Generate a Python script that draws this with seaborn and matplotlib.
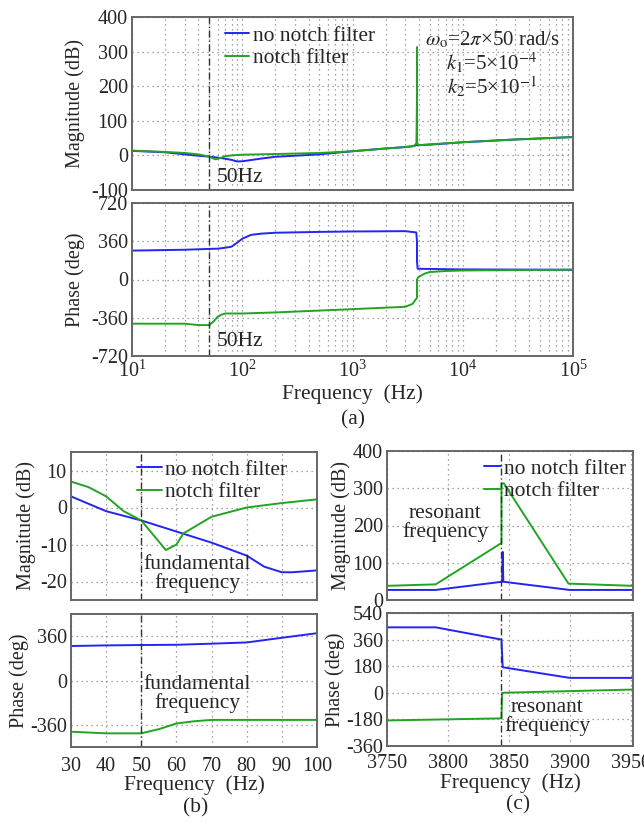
import matplotlib
matplotlib.use("Agg")
import matplotlib.pyplot as plt
import numpy as np
import pandas as pd
import seaborn as sns
from matplotlib.ticker import LogLocator, NullFormatter, MultipleLocator, FixedLocator

# ---------------- data ----------------
# (a) wide-band Bode plot, 10 Hz .. 100 kHz
a_mag_f_plain = [10, 20, 30, 40, 50, 60, 70, 80, 90, 100, 150, 200, 500, 1000, 2000,
                 3000, 3600, 3800, 3845, 3900, 4200, 5000, 10000, 30000, 100000]
a_mag_plain = [13, 9, 3, -1, -3.5, -6.5, -9.5, -13, -17.5, -17, -9, -4, 3, 12, 20,
               24, 27, 30, 36, 29, 30, 31, 38, 46, 53]
a_mag_f_notch = [10, 20, 30, 40, 50, 57, 60, 70, 80, 100, 200, 500, 1000, 2000, 3000,
                 3600, 3800, 3840, 3845, 3850, 3900, 4200, 5000, 10000, 30000, 100000]
a_mag_notch = [14, 10, 7, 3, -3.5, -11.5, -10, -2.5, 0, 2, 4, 7, 12, 20, 24,
               27, 35, 150, 313, 40, 31, 30, 32, 38, 46, 53]

a_ph_f_plain = [10, 30, 50, 60, 70, 80, 90, 100, 120, 150, 200, 500, 1000, 3000,
                3790, 3844, 3845, 3900, 10000, 100000]
a_ph_plain = [272, 280, 288, 290, 299, 309, 347, 384, 420, 432, 440, 448, 452, 455,
              443, 360, 173, 101, 95, 92]
a_ph_f_notch = [10, 30, 40, 50, 55, 60, 65, 70, 100, 200, 1000, 3000, 3500, 3750,
                3844, 3845, 3952, 4500, 5000, 7000, 10000, 100000]
a_ph_notch = [-416, -416, -429, -429, -395, -349, -331, -320, -320, -310, -279, -257,
              -230, -187, -173, 0, 22, 55, 70, 80, 85, 92]

# (b) zoom around the fundamental frequency
b_f_plain = [30, 35, 40, 50, 60, 70, 80, 85, 90, 93, 100]
b_mag_plain = [3, 1, -1, -3.5, -6.5, -9.5, -13, -16, -17.5, -17.5, -17]
b_f_notch = [30, 35, 40, 45, 50, 57, 60, 62, 70, 80, 90, 100]
b_mag_notch = [7, 5.5, 3, -1, -3.5, -11.5, -10, -7, -2.5, 0, 1.2, 2.2]

b_ph_f_plain = [30, 40, 50, 60, 70, 80, 90, 100]
b_ph_plain = [280, 285, 288, 290, 299, 309, 347, 384]
b_ph_f_notch = [30, 40, 50, 55, 60, 65, 70, 100]
b_ph_notch = [-416, -429, -429, -395, -349, -331, -320, -320]

# (c) zoom around the resonant frequency
c_f_plain = [3750, 3790, 3844.5, 3845, 3845.5, 3900, 3952]
c_mag_plain = [27, 27, 49, 129, 49, 27, 27]
c_f_notch = [3750, 3790, 3844, 3844, 3846, 3899, 3952]
c_mag_notch = [38, 42, 153, 313, 313, 44, 38]

c_ph_f_plain = [3750, 3790, 3844, 3845, 3900, 3952]
c_ph_plain = [443, 443, 360, 173, 101, 101]
c_ph_f_notch = [3750, 3844, 3844.5, 3952]
c_ph_notch = [-187, -173, 0, 22]

series_names = ["no notch filter", "notch filter"]

# ---------------- style ----------------
sns.set_style("ticks")
plt.rcParams["font.family"] = ["Liberation Serif", "DejaVu Serif"]
plt.rcParams["mathtext.fontset"] = "stix"
plt.rcParams["axes.unicode_minus"] = False

BLUE = "#2424f5"
GREEN = "#22a422"
SPINE = "#666666"
ANN = 15.5

W, H = 644, 823
fig = plt.figure(figsize=(W / 100, H / 100), dpi=100)


def box(left, top, right, bottom):
    return [left / W, 1 - bottom / H, (right - left) / W, (bottom - top) / H]


def style_axes(ax, fs, xpad=3):
    for s in ax.spines.values():
        s.set_color(SPINE)
        s.set_linewidth(1.4)
    ax.tick_params(which="both", direction="in", length=0, labelsize=fs, pad=3)
    ax.tick_params(axis="x", pad=xpad)
    ax.grid(True, which="major", linestyle=(0, (1, 3)), color="#888888", linewidth=0.9)


def draw(ax, f1, y1, f2, y2, label=True):
    d1 = pd.DataFrame({"f": f1, "v": y1})
    d2 = pd.DataFrame({"f": f2, "v": y2})
    sns.lineplot(data=d1, x="f", y="v", ax=ax, color=BLUE, lw=1.4, sort=False,
                 estimator=None, label=series_names[0] if label else None)
    sns.lineplot(data=d2, x="f", y="v", ax=ax, color=GREEN, lw=1.4, sort=False,
                 estimator=None, label=series_names[1] if label else None)


def txt(x, y, s, **kw):
    fig.text(x / W, 1 - y / H, s, **kw)


legend_kw = dict(loc="upper left", frameon=False, fontsize=ANN, handlelength=1.15,
                 handletextpad=0.15, labelspacing=0.12, borderaxespad=0.2)

# ---------------- (a) ----------------
ax1 = fig.add_axes(box(132, 17, 573, 190))
ax2 = fig.add_axes(box(132, 203, 573, 356))
draw(ax1, a_mag_f_plain, a_mag_plain, a_mag_f_notch, a_mag_notch)
draw(ax2, a_ph_f_plain, a_ph_plain, a_ph_f_notch, a_ph_notch, label=False)
for ax in (ax1, ax2):
    ax.set_xscale("log")
    ax.set_xlim(10, 1e5)
    style_axes(ax, 14.5)
    ax.xaxis.set_minor_locator(LogLocator(base=10, subs=np.arange(2, 10)))
    ax.xaxis.set_minor_formatter(NullFormatter())
    ax.grid(True, which="minor", axis="x", linestyle=(0, (1, 3)), color="#888888", linewidth=0.9)
    ax.axvline(50, color="#333333", lw=1.0, ls=(0, (5, 2, 1, 2)))
ax1.set_ylim(-100, 400)
ax1.yaxis.set_major_locator(MultipleLocator(100))
ax1.set_xticklabels([])
ax1.set_xlabel("")
ax1.set_ylabel("Magnitude (dB)", fontsize=14.5, labelpad=4)
ax1.legend(bbox_to_anchor=(0.181, 1.025), **legend_kw)
ax2.set_ylim(-720, 720)
ax2.yaxis.set_major_locator(FixedLocator([-720, -360, 0, 360, 720]))
ax2.set_ylabel("Phase (deg)", fontsize=14.5, labelpad=4)
ax2.set_xlabel("Frequency  (Hz)", fontsize=ANN, labelpad=2)

txt(217, 177, "50Hz", fontsize=ANN, va="center")
txt(217, 342, "50Hz", fontsize=ANN, va="center")
txt(492, 40, r"$\omega_{\rm o}$=2$\pi$×50 rad/s", fontsize=15, ha="center", va="center")
txt(492, 63, r"$k_1$=5×10$^{-4}$", fontsize=15, ha="center", va="center")
txt(492, 87, r"$k_2$=5×10$^{-1}$", fontsize=15, ha="center", va="center")
txt(353, 420, "(a)", fontsize=ANN, ha="center", va="center")

# ---------------- (b) ----------------
bx1 = fig.add_axes(box(71, 452, 317, 600))
bx2 = fig.add_axes(box(71, 614, 317, 747))
draw(bx1, b_f_plain, b_mag_plain, b_f_notch, b_mag_notch)
draw(bx2, b_ph_f_plain, b_ph_plain, b_ph_f_notch, b_ph_notch, label=False)
for ax in (bx1, bx2):
    ax.set_xlim(30, 100)
    ax.xaxis.set_major_locator(MultipleLocator(10))
    style_axes(ax, 14.5, xpad=7)
    ax.axvline(50, color="#333333", lw=1.0, ls=(0, (5, 2, 1, 2)))
bx1.set_ylim(-25, 15)
bx1.yaxis.set_major_locator(FixedLocator([-20, -10, 0, 10]))
bx1.set_xticklabels([])
bx1.set_xlabel("")
bx1.set_ylabel("Magnitude (dB)", fontsize=14.5, labelpad=3)
bx1.legend(bbox_to_anchor=(0.217, 1.035), **legend_kw)
bx2.set_ylim(-540, 540)
bx2.yaxis.set_major_locator(FixedLocator([-360, 0, 360]))
bx2.set_ylabel("Phase (deg)", fontsize=14.5, labelpad=1)
bx2.set_xlabel("Frequency  (Hz)", fontsize=ANN, labelpad=0)

txt(197, 574, "fundamental\nfrequency", fontsize=ANN, ha="center", va="center", linespacing=1.0)
txt(197, 694, "fundamental\nfrequency", fontsize=ANN, ha="center", va="center", linespacing=1.0)
txt(196, 808, "(b)", fontsize=ANN, ha="center", va="center")

# ---------------- (c) ----------------
cx1 = fig.add_axes(box(387, 451, 633, 600))
cx2 = fig.add_axes(box(387, 613, 633, 746))
draw(cx1, c_f_plain, c_mag_plain, c_f_notch, c_mag_notch)
draw(cx2, c_ph_f_plain, c_ph_plain, c_ph_f_notch, c_ph_notch, label=False)
for ax in (cx1, cx2):
    ax.set_xlim(3750, 3952)
    ax.xaxis.set_major_locator(MultipleLocator(50))
    style_axes(ax, 14.5, xpad=6)
    ax.axvline(3844, color="#333333", lw=1.0, ls=(0, (5, 2, 1, 2)))
cx1.set_ylim(0, 400)
cx1.yaxis.set_major_locator(MultipleLocator(100))
cx1.set_xticklabels([])
cx1.set_xlabel("")
cx1.set_ylabel("Magnitude (dB)", fontsize=14.5, labelpad=1)
c_legend = dict(legend_kw, handlelength=0.8)
cx1.legend(bbox_to_anchor=(0.34, 1.035), **c_legend)
cx2.set_ylim(-360, 540)
cx2.yaxis.set_major_locator(MultipleLocator(180))
cx2.set_ylabel("Phase (deg)", fontsize=14.5, labelpad=1)
cx2.set_xlabel("Frequency  (Hz)", fontsize=ANN, labelpad=0)

txt(445, 523, "resonant\nfrequency", fontsize=ANN, ha="center", va="center", linespacing=1.0)
txt(547, 717, "resonant\nfrequency", fontsize=ANN, ha="center", va="center", linespacing=1.0)
txt(518, 805, "(c)", fontsize=ANN, ha="center", va="center")

fig.savefig("out.png", dpi=100)
